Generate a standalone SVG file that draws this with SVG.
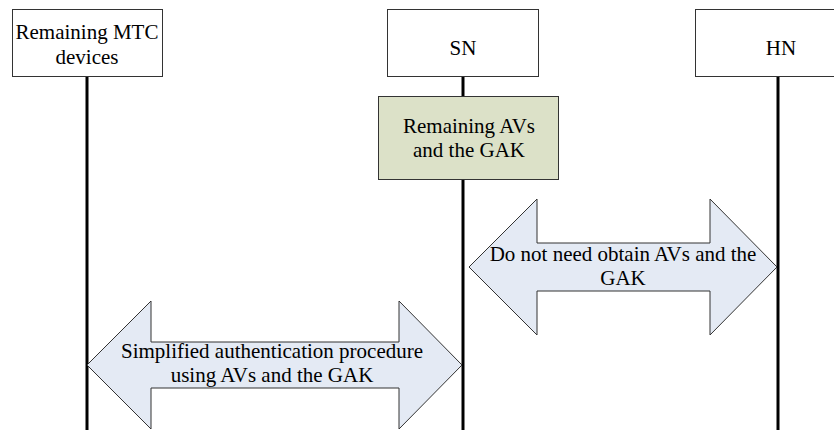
<svg xmlns="http://www.w3.org/2000/svg" width="834" height="430" viewBox="0 0 834 430">
<style>
text{font-family:'Liberation Serif',Tinos,'Times New Roman',Times,'Nimbus Roman','DejaVu Serif',serif;font-size:21px;fill:#000;text-anchor:middle}
.box{fill:#fff;stroke:#333;stroke-width:1}
.life{stroke:#000;stroke-width:3;fill:none}
.arrow{fill:#e4eaf4;stroke:#333;stroke-width:1;stroke-linejoin:miter}
</style>
<rect width="834" height="430" fill="#fff"/>
<g id="connectors">
<line class="life" x1="87" y1="77" x2="87" y2="430"/>
<line class="life" x1="463" y1="77" x2="463" y2="96"/>
<line class="life" x1="463" y1="180" x2="463" y2="430"/>
<line class="life" x1="778" y1="77" x2="778" y2="430"/>
</g>
<g id="mtc">
<rect class="box" x="12.5" y="9.5" width="150" height="67"/>
<text x="87" y="39">Remaining MTC</text>
<text x="87" y="64">devices</text>
</g>
<g id="sn">
<rect class="box" x="387.5" y="9.5" width="151" height="67"/>
<text x="463" y="55">SN</text>
</g>
<g id="hn">
<rect class="box" x="695.5" y="9.5" width="175" height="67"/>
<text x="781" y="55">HN</text>
</g>
<g id="remaining-avs">
<rect x="378.5" y="96.5" width="180" height="83" fill="#dce1c8" stroke="#333" stroke-width="1"/>
<text x="469" y="133">Remaining AVs</text>
<text x="469" y="157">and the GAK</text>
</g>
<g id="arrow-sn-hn">
<polygon class="arrow" points="469,267 537,199 537,243 710,243 710,199 777,267 710,335 710,291 537,291 537,335"/>
<text x="623" y="261">Do not need obtain AVs and the</text>
<text x="623" y="285">GAK</text>
</g>
<g id="arrow-mtc-sn">
<polygon class="arrow" points="87,365 151,301 151,342 399,342 399,301 462,365 399,429 399,388 151,388 151,429"/>
<text x="272" y="358">Simplified authentication procedure</text>
<text x="272" y="382">using AVs and the GAK</text>
</g>
</svg>
